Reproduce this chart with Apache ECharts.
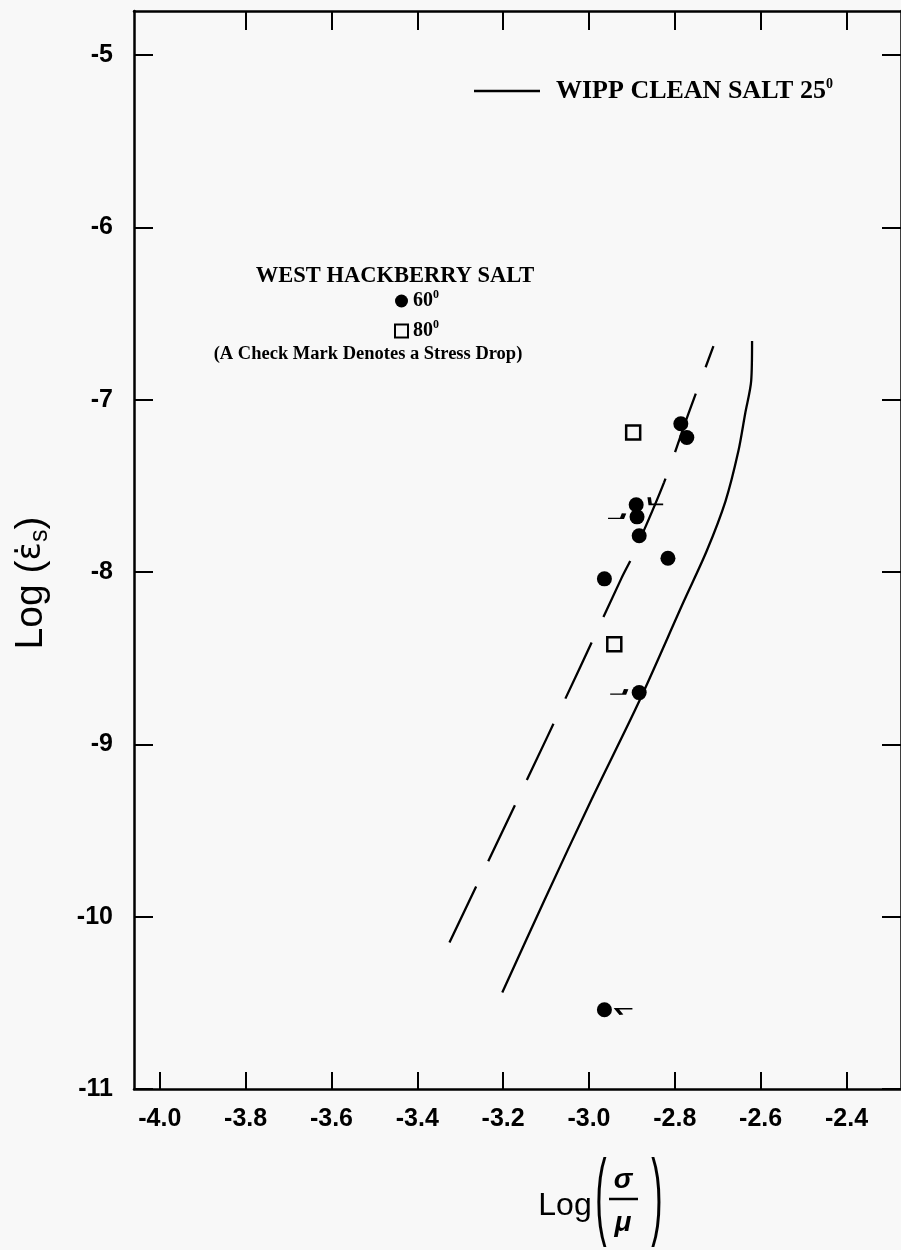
<!DOCTYPE html>
<html>
<head>
<meta charset="utf-8">
<script src="https://cdn.jsdelivr.net/npm/echarts@6/dist/echarts.min.js"></script>
<style>
  html, body { margin: 0; padding: 0; background: #f8f8f8; }
  #chart { width: 901px; height: 1250px; }
</style>
</head>
<body>
<div id="chart"></div>
<script>
// Axis ticks
const xTicks = [-4.0, -3.8, -3.6, -3.4, -3.2, -3.0, -2.8, -2.6, -2.4];
const yTicks = [-11, -10, -9, -8, -7, -6, -5];

// WIPP clean salt, 25 degrees (solid curve)
const wippX = [-3.202, -3.103, -2.994, -2.883, -2.779, -2.726, -2.682, -2.652, -2.636, -2.622, -2.620];
const wippY = [-10.44, -9.90, -9.32, -8.75, -8.17, -7.88, -7.59, -7.30, -7.08, -6.89, -6.66];

// Dashed reference curve
const dashX = [-3.325, -3.170, -3.020, -2.925, -2.897, -2.825, -2.768, -2.710];
const dashY = [-10.15, -9.34, -8.55, -8.04, -7.90, -7.48, -7.08, -6.69];

// West Hackberry salt, 60 degrees
const hack60X = [-2.786, -2.772, -2.890, -2.888, -2.883, -2.816, -2.964, -2.883, -2.964];
const hack60Y = [-7.14, -7.22, -7.61, -7.68, -7.79, -7.92, -8.04, -8.70, -10.54];

// West Hackberry salt, 80 degrees
const hack80X = [-2.897, -2.941];
const hack80Y = [-7.19, -8.42];

// 60-degree tests that showed a stress drop (index into hack60 arrays, side of the mark)
const stressDropIdx = [2, 3, 7, 8];
const stressDropKind = ['rightUp', 'left', 'left', 'rightDown'];

// Shapes of the check marks
const checkMarks = {
  left:      { symbol: 'path://M0,5L14,5L16,0', symbolSize: [16, 5], symbolOffset: [-21, -1] },
  rightUp:   { symbol: 'path://M0,0L1,7L14,7', symbolSize: [14, 7], symbolOffset: [20, -4] },
  rightDown: { symbol: 'path://M16,0L0,0L5,6', symbolSize: [16, 6], symbolOffset: [20, 2] }
};

const pairs = (xs, ys) => xs.map((x, i) => [x, ys[i]]);

const serifBold = { fontFamily: 'Liberation Serif', fontWeight: 'bold', color: '#000' };
const supStyle = (size) => ({ fontFamily: 'Liberation Serif', fontWeight: 'bold', fontSize: size, color: '#000', padding: [0, 0, size, 0] });
const tickLabel = { fontFamily: 'Liberation Sans', fontWeight: 'bold', fontSize: 25, color: '#000' };
const axisLine = { show: true, lineStyle: { color: '#000', width: 2.5 } };

const chart = echarts.init(document.getElementById('chart'), null, { renderer: 'canvas' });

chart.setOption({
  animation: false,
  backgroundColor: '#f8f8f8',
  grid: { left: 134, right: -6, top: 11, bottom: 161 },
  xAxis: [
    {
      type: 'value', position: 'bottom', min: -4.06, max: -2.273,
      axisLine: axisLine,
      axisTick: { show: true, inside: true, length: 17, customValues: xTicks, lineStyle: { color: '#000', width: 2 } },
      axisLabel: { show: true, customValues: xTicks, margin: 18, formatter: v => v.toFixed(1), ...tickLabel },
      splitLine: { show: false }
    },
    {
      type: 'value', position: 'top', min: -4.06, max: -2.273,
      axisLine: axisLine,
      axisTick: { show: true, inside: true, length: 19, customValues: xTicks.slice(1), lineStyle: { color: '#000', width: 2 } },
      axisLabel: { show: false },
      splitLine: { show: false }
    }
  ],
  yAxis: [
    {
      type: 'value', position: 'left', min: -11, max: -4.745,
      axisLine: axisLine,
      axisTick: { show: true, inside: true, length: 19, customValues: yTicks, lineStyle: { color: '#000', width: 2 } },
      axisLabel: { show: true, customValues: yTicks, margin: 21, formatter: v => String(v), ...tickLabel },
      splitLine: { show: false }
    },
    {
      type: 'value', position: 'right', min: -11, max: -4.745,
      axisLine: axisLine,
      axisTick: { show: true, inside: true, length: 19, customValues: yTicks, lineStyle: { color: '#000', width: 2 } },
      axisLabel: { show: false },
      splitLine: { show: false }
    }
  ],
  legend: [
    {
      data: ['WIPP CLEAN SALT 25'],
      left: 474, top: 77, padding: 0,
      icon: 'rect', itemWidth: 66, itemHeight: 2.5,
      itemStyle: { color: '#000' },
      formatter: n => n + '{sup|0}',
      textStyle: { ...serifBold, fontSize: 26, padding: [0, 0, 0, 11], rich: { sup: supStyle(14) } }
    },
    {
      data: ['60', '80'],
      orient: 'vertical',
      left: 394, top: 289, padding: 0,
      itemWidth: 13, itemHeight: 13, itemGap: 8,
      formatter: n => n + '{sup|0}',
      textStyle: { ...serifBold, fontSize: 20, rich: { sup: supStyle(12) } }
    }
  ],
  graphic: [
    {
      type: 'text', x: 395, y: 276,
      style: { text: 'WEST HACKBERRY SALT', font: 'bold 22.5px "Liberation Serif"', fill: '#000', align: 'center', verticalAlign: 'middle' }
    },
    {
      type: 'text', x: 368, y: 354,
      style: { text: '(A Check Mark Denotes a Stress Drop)', font: 'bold 18.5px "Liberation Serif"', fill: '#000', align: 'center', verticalAlign: 'middle' }
    },
    // y-axis title: Log (ε̇s)
    {
      type: 'text', x: 31, y: 583, rotation: Math.PI / 2,
      style: {
        text: '{n|Log (}{e|\u03B5\u0307}{s|s}{n|)}',
        align: 'center', verticalAlign: 'middle',
        rich: {
          n: { fontFamily: 'Liberation Sans', fontSize: 39, fill: '#000' },
          e: { fontFamily: 'DejaVu Sans', fontSize: 34, fill: '#000' },
          s: { fontFamily: 'Liberation Sans', fontSize: 25, fill: '#000', padding: [19, 0, 0, 0] }
        }
      }
    },
    // x-axis title: Log(σ/μ)
    { type: 'text', x: 565, y: 1206, style: { text: 'Log', font: '32px "Liberation Sans"', fill: '#000', align: 'center', verticalAlign: 'middle' } },
    { type: 'text', x: 601, y: 1200, scaleY: 2.85, style: { text: '(', font: '34px "Liberation Sans"', fill: '#000', align: 'center', verticalAlign: 'middle' } },
    { type: 'text', x: 623, y: 1180, style: { text: '\u03C3', font: 'italic bold 28px "Liberation Sans"', fill: '#000', align: 'center', verticalAlign: 'middle' } },
    { type: 'line', shape: { x1: 609, y1: 1199, x2: 638, y2: 1199 }, style: { stroke: '#000', lineWidth: 2.5 } },
    { type: 'text', x: 623, y: 1223, style: { text: '\u03BC', font: 'italic bold 28px "Liberation Sans"', fill: '#000', align: 'center', verticalAlign: 'middle' } },
    { type: 'text', x: 657, y: 1200, scaleY: 2.85, style: { text: ')', font: '34px "Liberation Sans"', fill: '#000', align: 'center', verticalAlign: 'middle' } }
  ],
  series: [
    {
      name: 'WIPP CLEAN SALT 25', type: 'line', xAxisIndex: 0, yAxisIndex: 0,
      data: pairs(wippX, wippY), smooth: 0.3, symbol: 'none',
      lineStyle: { color: '#000', width: 2.3 }, itemStyle: { color: '#000' }, z: 2
    },
    {
      name: 'dashed', type: 'line', xAxisIndex: 0, yAxisIndex: 0,
      data: pairs(dashX, dashY), smooth: 0.3, symbol: 'none',
      lineStyle: { color: '#000', width: 2.3, type: [62, 28] }, itemStyle: { color: '#000' }, z: 2
    },
    {
      name: '60', type: 'scatter', xAxisIndex: 0, yAxisIndex: 0,
      data: pairs(hack60X, hack60Y), symbol: 'circle', symbolSize: 15,
      itemStyle: { color: '#000', opacity: 1 }, z: 4
    },
    {
      name: '80', type: 'scatter', xAxisIndex: 0, yAxisIndex: 0,
      data: pairs(hack80X, hack80Y), symbol: 'rect', symbolSize: 14,
      itemStyle: { color: 'rgba(0,0,0,0)', borderColor: '#000', borderWidth: 2.5, opacity: 1 }, z: 4
    },
    {
      name: 'stress drop', type: 'scatter', xAxisIndex: 0, yAxisIndex: 0, silent: true,
      data: stressDropIdx.map((k, i) => Object.assign({ value: [hack60X[k], hack60Y[k]] }, checkMarks[stressDropKind[i]])),
      itemStyle: { color: 'none', borderColor: '#000', borderWidth: 2.5, opacity: 1 }, z: 4
    }
  ]
});
</script>
</body>
</html>
